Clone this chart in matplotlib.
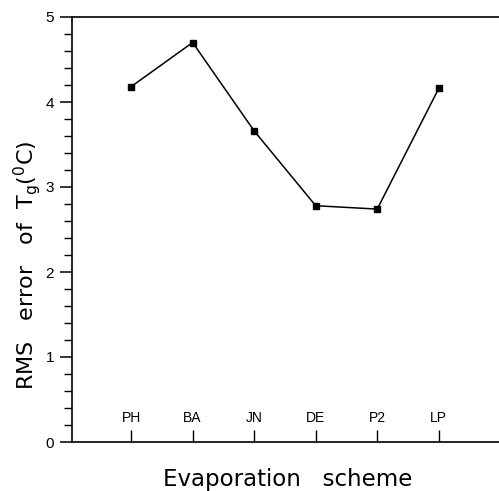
import matplotlib
matplotlib.use("Agg")
import matplotlib.pyplot as plt
from matplotlib.ticker import MultipleLocator

schemes = ["PH", "BA", "JN", "DE", "P2", "LP"]
rms_error = [4.18, 4.70, 3.66, 2.78, 2.74, 4.16]
yticks = [0, 1, 2, 3, 4, 5]

plt.rcParams['font.family'] = ['Liberation Sans', 'DejaVu Sans']

fig = plt.figure(figsize=(4.99, 4.91), dpi=100)
ax = fig.add_axes([72/499, 49/491, 1 - 72/499 + 0.01, 425/491])

x = list(range(1, len(schemes) + 1))
ax.plot(x, rms_error, color='black', lw=1.1, marker='s', ms=5, mfc='black', mec='black')

ax.set_xlim(0.04, 7.06)
ax.set_ylim(0, 5)
ax.set_yticks(yticks)
ax.yaxis.set_minor_locator(MultipleLocator(0.2))
ax.tick_params(axis='y', which='major', direction='out', length=9, width=1.1, labelsize=11, pad=4)
ax.tick_params(axis='y', which='minor', direction='out', length=6, width=1)
ax.set_xticks(x)
ax.set_xticklabels([])
ax.tick_params(axis='x', which='major', direction='in', length=9, width=1, top=False)

for xi, s in zip(x, schemes):
    ax.text(xi, 0.28, s, ha='center', va='center', fontsize=10)

ax.spines['right'].set_visible(False)
for sp in ['left', 'top', 'bottom']:
    ax.spines[sp].set_linewidth(1.2)

ax.set_ylabel(r"RMS   error   of  T$_\mathrm{g}$($^\mathrm{0}$C)", fontsize=16,
              family='DejaVu Sans')
ax.yaxis.set_label_coords(-0.066, 0.416)
ax.set_xlabel("Evaporation   scheme", fontsize=16.5, labelpad=15, family='DejaVu Sans')

fig.savefig("out.png", dpi=100)
